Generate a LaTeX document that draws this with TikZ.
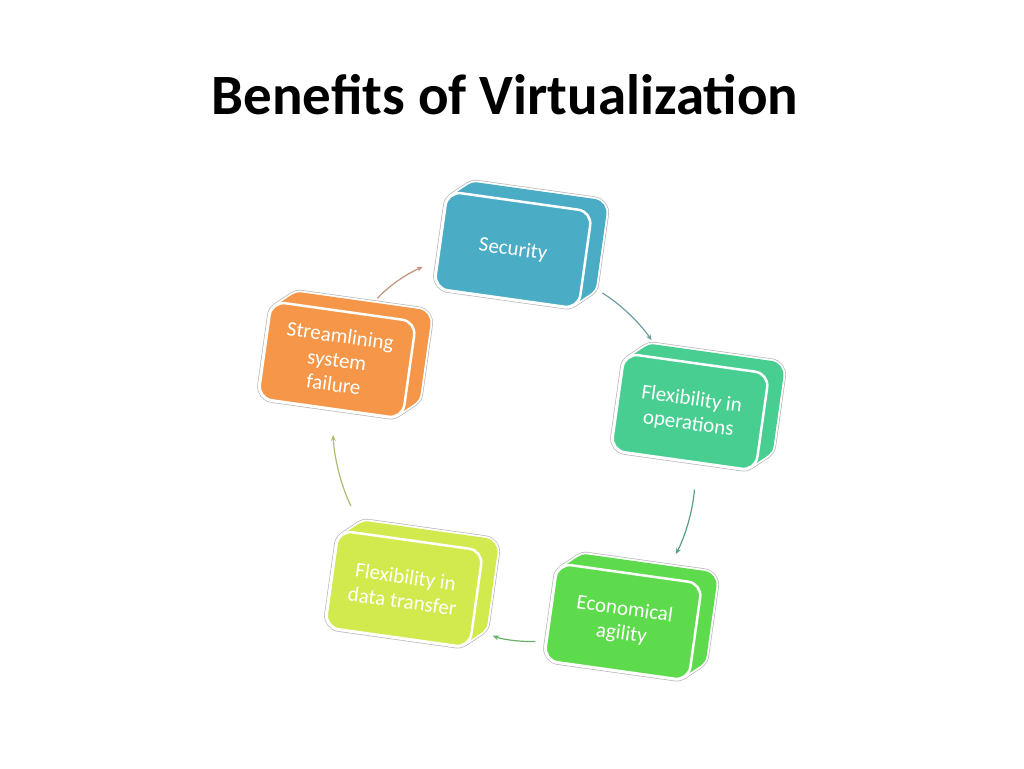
\documentclass[tikz,border=0pt]{standalone}
\usepackage{fontspec}
\setmainfont{Carlito}
\usetikzlibrary{arrows.meta}
\definecolor{secblue}{RGB}{75,172,198}
\definecolor{opsgreen}{RGB}{73,206,145}
\definecolor{ecogreen}{RGB}{93,219,76}
\definecolor{datlime}{RGB}{211,234,78}
\definecolor{strorange}{RGB}{246,150,72}
\definecolor{edgegrey}{RGB}{185,185,185}
\definecolor{arrowa}{RGB}{110,158,158}
\definecolor{arrowb}{RGB}{90,158,138}
\definecolor{arrowc}{RGB}{106,174,106}
\definecolor{arrowd}{RGB}{168,192,112}
\definecolor{arrowe}{RGB}{192,149,122}
\tikzset{
	face/.style={rectangle, rounded corners=14pt, minimum width=146pt, minimum height=98pt, inner sep=0pt, draw=white, line width=2.5pt, text=white, align=center, rotate=-8, font=\fontsize{21}{24.5}\selectfont},
	cycarrow/.style={line width=1.2pt, -{Stealth[length=6pt,width=5pt]}},
}
\newcommand{\drawdepth}[3]{
	\pgfmathsetmacro{\cx}{#1}
	\pgfmathsetmacro{\cy}{#2}
	\foreach \t in {0,0.1,...,1} {
		\begin{scope}[shift={(\cx+18*\t,\cy-12*\t)}, rotate=-8]
			\draw[edgegrey, line width=5pt, rounded corners=14pt] (-73,-49) rectangle (73,49);
		\end{scope}
	}
	\foreach \t in {0,0.1,...,1} {
		\begin{scope}[shift={(\cx+18*\t,\cy-12*\t)}, rotate=-8]
			\draw[white, line width=3.6pt, rounded corners=14pt] (-73,-49) rectangle (73,49);
		\end{scope}
	}
	\foreach \t in {0,0.1,...,1} {
		\begin{scope}[shift={(\cx+18*\t,\cy-12*\t)}, rotate=-8]
			\fill[#3, rounded corners=14pt] (-73,-49) rectangle (73,49);
		\end{scope}
	}
}
\newcommand{\drawbox}[5]{
	\drawdepth{#2}{#3}{#4}
	\node[face, fill=#4] (#1) at (#2,#3) {#5};
}
\begin{document}
\begin{tikzpicture}[x=1pt, y=-1pt]
	\useasboundingbox[fill=white] (0,0) rectangle (1024,768);
	\node[anchor=base, font=\fontsize{57}{68}\selectfont\bfseries] (title) at (505,114) {Benefits of Virtualization};
	
	% boxes of the cycle
	\drawbox{sec}{513}{250}{secblue}{Security}
	\drawbox{ops}{690}{412}{opsgreen}{Flexibility in\\operations}
	\drawbox{eco}{623}{622}{ecogreen}{Economical\\agility}
	\drawbox{dat}{404}{589}{datlime}{Flexibility in\\data transfer}
	\drawbox{str}{337}{360}{strorange}{Streamlining\\system\\failure}
	
	% arrows
	\draw[cycarrow, color=arrowa, shorten <=22pt, shorten >=21pt] (sec.-16) to[bend left=12] (ops.124);
	\draw[cycarrow, color=arrowb, shorten <=26pt, shorten >=26pt] (ops.-75) to[bend left=12] (eco.56);
	\draw[cycarrow, color=arrowc, shorten <=10pt, shorten >=21pt] (eco.202) to[bend left=12] (dat.-21);
	\draw[cycarrow, color=arrowd, shorten <=30pt, shorten >=25pt] (dat.133) to[bend left=12] (str.-88);
	\draw[cycarrow, color=arrowe, shorten <=20pt, shorten >=15pt] (str.68) to[bend left=12] (sec.196);
\end{tikzpicture}
\end{document}
